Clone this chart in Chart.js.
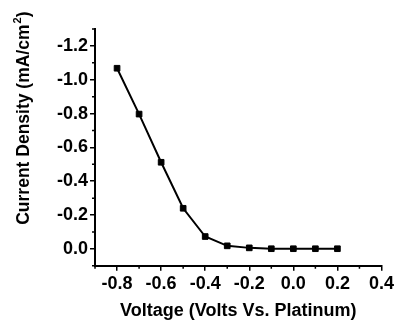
<!DOCTYPE html>
<html>
<head>
<meta charset="utf-8">
<script src="https://cdn.jsdelivr.net/npm/chart.js@4"></script>
<style>
  body { margin: 0; background: #fff; }
  #wrap { width: 396px; height: 322px; }
</style>
</head>
<body>
<div id="wrap"><canvas id="iv-chart"></canvas></div>
<script>
// voltage (V vs Pt) and current density (mA/cm2)
const voltage = [-0.8, -0.7, -0.6, -0.5, -0.4, -0.3, -0.2, -0.1, 0.0, 0.1, 0.2];
const density = [-1.068, -0.797, -0.512, -0.240, -0.073, -0.018, -0.006, -0.001, -0.001, -0.001, -0.001];

const xMajor = [-0.8, -0.6, -0.4, -0.2, 0.0, 0.2, 0.4];
const xMinor = [-0.9, -0.7, -0.5, -0.3, -0.1, 0.1, 0.3];
const yMajor = [-1.2, -1.0, -0.8, -0.6, -0.4, -0.2, 0.0];
const yMinor = [-1.3, -1.1, -0.9, -0.7, -0.5, -0.3, -0.1, 0.1];

const yTitle = ['Current Density (mA/cm', '2', ')'];

const family = "'Liberation Sans', Arial, sans-serif";
const font = { family: family, size: 18, weight: 'bold' };

// small ticks in between the labelled ones
const minorTicks = {
  id: 'minorTicks',
  afterDraw(chart) {
    const ctx = chart.ctx;
    const xs = chart.scales.x, ys = chart.scales.y;
    ctx.save();
    ctx.strokeStyle = '#000';
    ctx.lineWidth = 1.5;
    ctx.beginPath();
    xMinor.forEach(v => {
      const px = xs.getPixelForValue(v);
      ctx.moveTo(px, xs.top);
      ctx.lineTo(px, xs.top + 3);
    });
    yMinor.forEach(v => {
      const py = ys.getPixelForValue(v);
      ctx.moveTo(ys.right, py);
      ctx.lineTo(ys.right - 3, py);
    });
    ctx.stroke();
    ctx.restore();
  }
};

// rotated y title with a real superscript, sitting a bit above centre like the original
const yTitlePlugin = {
  id: 'yTitle',
  afterDraw(chart) {
    const ctx = chart.ctx;
    const area = chart.chartArea;
    ctx.save();
    ctx.translate(24, area.bottom - 41);
    ctx.rotate(-Math.PI / 2);
    ctx.fillStyle = '#000';
    ctx.textBaseline = 'middle';
    ctx.textAlign = 'left';
    ctx.font = 'bold 17.5px ' + family;
    let x = 0;
    ctx.fillText(yTitle[0], x, 0);
    x += ctx.measureText(yTitle[0]).width + 1;
    ctx.font = 'bold 11px ' + family;
    ctx.fillText(yTitle[1], x, -6);
    x += ctx.measureText(yTitle[1]).width;
    ctx.font = 'bold 17.5px ' + family;
    ctx.fillText(yTitle[2], x, 0);
    ctx.restore();
  }
};

new Chart(document.getElementById('iv-chart'), {
  type: 'line',
  data: {
    datasets: [{
      data: voltage.map((v, i) => ({ x: v, y: density[i] })),
      borderColor: '#000',
      borderWidth: 2,
      pointStyle: 'rect',
      pointRadius: 4,
      pointBackgroundColor: '#000',
      pointBorderColor: '#000',
      pointBorderWidth: 1,
      fill: false,
      tension: 0
    }]
  },
  options: {
    responsive: true,
    maintainAspectRatio: false,
    animation: false,
    layout: { padding: { left: 55, top: 29, right: 0, bottom: 0 } },
    plugins: { legend: { display: false }, tooltip: { enabled: false } },
    scales: {
      x: {
        type: 'linear',
        min: -0.9,
        max: 0.4,
        afterBuildTicks: s => { s.ticks = xMajor.map(v => ({ value: v })); },
        ticks: {
          color: '#000', font: font, padding: 2, maxRotation: 0, autoSkip: false,
          callback: v => v.toFixed(1)
        },
        grid: { drawOnChartArea: false, drawTicks: true, tickLength: 5, color: '#000', lineWidth: 1.5 },
        border: { display: true, color: '#000', width: 2 },
        title: {
          display: true, text: 'Voltage (Volts Vs. Platinum)', color: '#000',
          font: font, padding: { top: 4, bottom: 0 }
        }
      },
      y: {
        type: 'linear',
        min: -1.3,
        max: 0.1,
        reverse: true,
        afterBuildTicks: s => { s.ticks = yMajor.map(v => ({ value: v })); },
        ticks: {
          color: '#000', font: font, padding: 2, autoSkip: false,
          callback: v => v.toFixed(1)
        },
        grid: { drawOnChartArea: false, drawTicks: true, tickLength: 5, color: '#000', lineWidth: 1.5 },
        border: { display: true, color: '#000', width: 2 },
        title: { display: false }
      }
    }
  },
  plugins: [minorTicks, yTitlePlugin]
});
</script>
</body>
</html>
